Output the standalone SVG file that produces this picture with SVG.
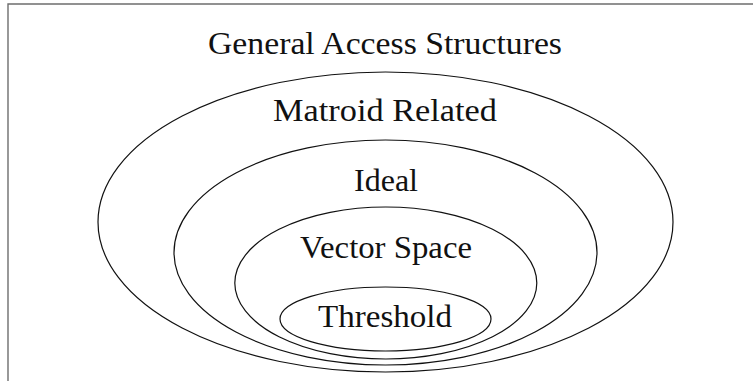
<svg xmlns="http://www.w3.org/2000/svg" width="753" height="381" viewBox="0 0 753 381">
<style>
.frame{fill:none;stroke:#6e6e6e;stroke-width:1.4}
.set{fill:none;stroke:#111;stroke-width:1.2}
.lbl{font-family:"Liberation Serif","DejaVu Serif",serif;font-size:31px;fill:#111;text-anchor:middle}
</style>
<rect width="753" height="381" fill="#fff"/>
<path class="frame" d="M8,381 V4 H753"/>
<g id="general">
<text class="lbl" x="385" y="54" textLength="354" lengthAdjust="spacingAndGlyphs">General Access Structures</text>
</g>
<g id="matroid">
<ellipse class="set" cx="385.5" cy="222" rx="287.5" ry="150"/>
<text class="lbl" x="385" y="121" textLength="224" lengthAdjust="spacingAndGlyphs">Matroid Related</text>
</g>
<g id="ideal">
<ellipse class="set" cx="385.5" cy="252.5" rx="211.5" ry="112.5"/>
<text class="lbl" x="386" y="191" textLength="64" lengthAdjust="spacingAndGlyphs">Ideal</text>
</g>
<g id="vector">
<ellipse class="set" cx="385.8" cy="283" rx="151" ry="76"/>
<text class="lbl" x="386" y="258" textLength="172" lengthAdjust="spacingAndGlyphs">Vector Space</text>
</g>
<g id="threshold">
<ellipse class="set" cx="385.5" cy="319" rx="105.5" ry="32"/>
<text class="lbl" x="385" y="327" textLength="134" lengthAdjust="spacingAndGlyphs">Threshold</text>
</g>
<g id="connectors"/>
</svg>
